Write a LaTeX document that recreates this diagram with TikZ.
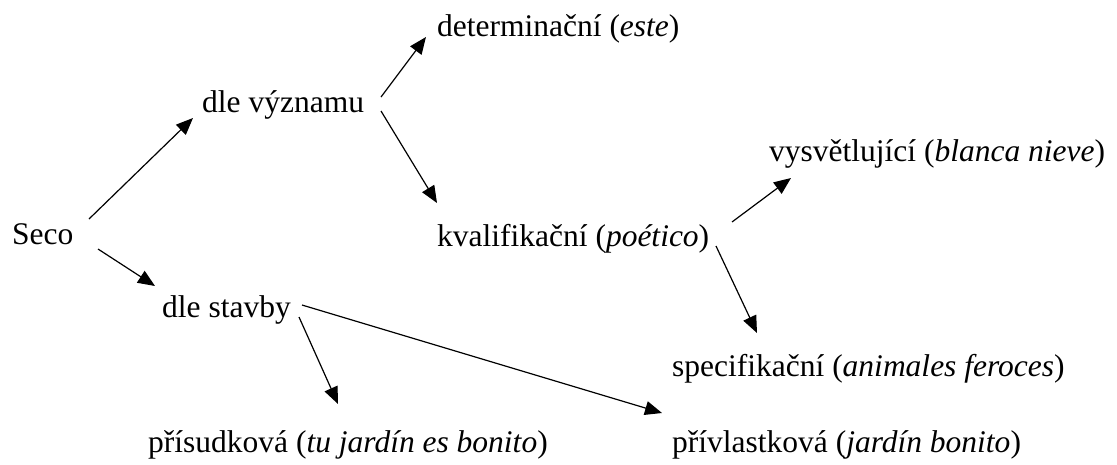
\documentclass[tikz,border=0pt]{standalone}
\usepackage{fontspec}
\setmainfont{Liberation Serif}
\usetikzlibrary{arrows.meta}
\begin{document}
\begin{tikzpicture}[x=1pt,y=-1pt,
  lbl/.style={anchor=base west,inner sep=0pt,font=\fontsize{31.5}{38}\selectfont},
  arr/.style={line width=1.2pt,-{Triangle[length=17pt,width=14pt]}}]
\useasboundingbox (0,0) rectangle (1117,464);
\node[lbl] (seco) at (12,244) {Seco};
\node[lbl] (vyz) at (202,112) {dle významu};
\node[lbl] (det) at (437,36) {determinační (\textit{este})};
\node[lbl] (kval) at (437,246) {kvalifikační (\textit{poético})};
\node[lbl] (vys) at (769,161) {vysvětlující (\textit{blanca nieve})};
\node[lbl] (spec) at (672,376) {specifikační (\textit{animales feroces})};
\node[lbl] (stav) at (162,317) {dle stavby};
\node[lbl] (pris) at (148,452) {přísudková (\textit{tu jardín es bonito})};
\node[lbl] (priv) at (672,452) {přívlastková (\textit{jardín bonito})};
\coordinate (a1) at (89,219);  \coordinate (b1) at (193,118);
\coordinate (a2) at (98,249);  \coordinate (b2) at (155,286);
\coordinate (a3) at (381,97);  \coordinate (b3) at (426,37);
\coordinate (a4) at (381,111); \coordinate (b4) at (437,203);
\coordinate (a5) at (732,222); \coordinate (b5) at (791,178);
\coordinate (a6) at (716,246); \coordinate (b6) at (757,333);
\coordinate (a7) at (302,305); \coordinate (b7) at (662,413);
\coordinate (a8) at (299,317); \coordinate (b8) at (338,404);
\draw[arr] (a1) -- (b1);
\draw[arr] (a2) -- (b2);
\draw[arr] (a3) -- (b3);
\draw[arr] (a4) -- (b4);
\draw[arr] (a5) -- (b5);
\draw[arr] (a6) -- (b6);
\draw[arr] (a7) -- (b7);
\draw[arr] (a8) -- (b8);
\end{tikzpicture}
\end{document}
